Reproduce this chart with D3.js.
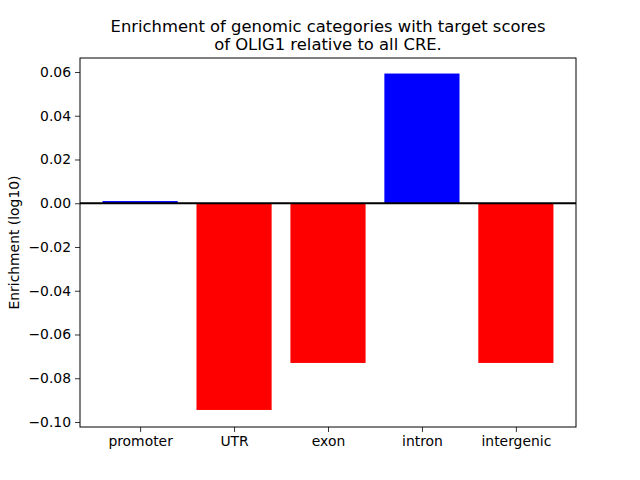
<!DOCTYPE html>
<html><head><meta charset="utf-8">
<script src="https://cdn.jsdelivr.net/npm/d3@7"></script>
<style>body{margin:0;background:#fff}text{font-family:"DejaVu Sans",sans-serif}</style>
</head><body>
<script>
const categories = ["promoter","UTR","exon","intron","intergenic"];
const values = [0.001, -0.0945, -0.073, 0.0593, -0.073];
const yTicks = [0.06,0.04,0.02,0.00,-0.02,-0.04,-0.06,-0.08,-0.10];
const titleLines = ["Enrichment of genomic categories with target scores","of OLIG1 relative to all CRE."];

const W=640,H=480, L=80, R=576, T=58, B=427;
const svg=d3.select("body").append("svg").attr("width",W).attr("height",H);
const x=d3.scaleLinear().domain([-0.64,4.64]).range([L,R]);
const y=d3.scaleLinear().domain([-0.10229,0.0664]).range([B,T]);
const bw=0.8;
svg.selectAll("rect.bar").data(values).enter().append("rect")
 .attr("x",(d,i)=>x(i-bw/2)).attr("width",(d,i)=>x(i+bw/2)-x(i-bw/2))
 .attr("y",d=>y(Math.max(0,d))).attr("height",d=>Math.abs(y(d)-y(0)))
 .attr("fill",d=>d>=0?"#0000ff":"#ff0000");
svg.append("line").attr("x1",L).attr("x2",R).attr("y1",y(0)).attr("y2",y(0)).attr("stroke","#000").attr("stroke-width",2);
const fmt=d=>(d<0?"\u2212":"")+Math.abs(d).toFixed(2);
const ya=svg.append("g").attr("transform",`translate(${L},0)`).call(d3.axisLeft(y).tickValues(yTicks).tickFormat(fmt).tickSize(5).tickPadding(4));
const xa=svg.append("g").attr("transform",`translate(0,${B})`).call(d3.axisBottom(x).tickValues(d3.range(categories.length)).tickFormat(i=>categories[i]).tickSize(5).tickPadding(4));
[ya,xa].forEach(a=>{a.select(".domain").remove();a.selectAll("text").attr("font-size",13.9).attr("fill","#000").attr("font-family","DejaVu Sans");a.selectAll("line").attr("stroke","#000").attr("stroke-width",0.8);});
svg.append("rect").attr("x",L).attr("y",T).attr("width",R-L).attr("height",B-T).attr("fill","none").attr("stroke","#000").attr("stroke-width",1);
svg.append("text").attr("transform",`translate(19,${(T+B)/2}) rotate(-90)`).attr("text-anchor","middle").attr("font-size",13.9).text("Enrichment (log10)");
titleLines.forEach((t,i)=>svg.append("text").attr("x",(L+R)/2).attr("y",32+i*17.5).attr("text-anchor","middle").attr("font-size",16.4).text(t));
</script>
</body></html>
